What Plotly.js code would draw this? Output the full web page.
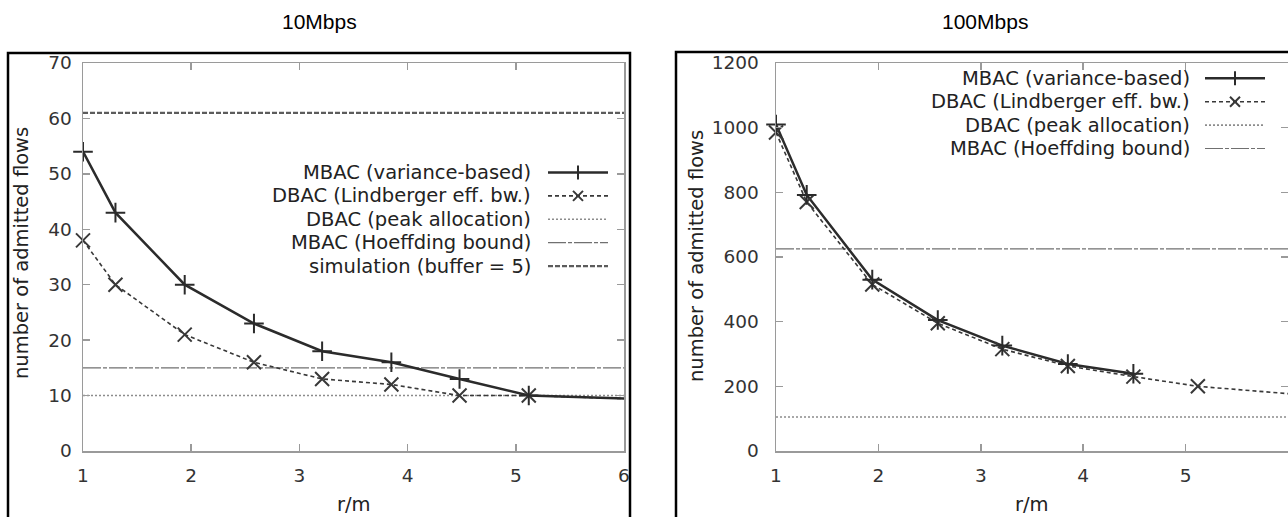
<!DOCTYPE html>
<html><head><meta charset="utf-8">
<script src="https://cdn.plot.ly/plotly-3.0.1.min.js"></script>
<style>html,body{margin:0;padding:0;background:#fff;} #chart{width:1288px;height:517px;}</style>
</head><body><div id="chart"></div>
<script>
// ---- data ----
const rm10 = [1, 1.3, 1.94, 2.58, 3.21, 3.85, 4.48, 5.12, 6.4];
const mbacVar10 = [54, 43, 30, 23, 18, 16, 13, 10, 9.2];
const dbacLind10 = [38, 30, 21, 16, 13, 12, 10, 10, 9.2];
const peak10 = 10;
const hoeff10 = 15;
const sim10 = 61;

const rm100 = [1, 1.3, 1.94, 2.58, 3.21, 3.85, 4.49, 5.12, 6.4];
const mbacVar100 = [1010, 792, 530, 405, 326, 269, 239];
const dbacLind100 = [985, 770, 515, 395, 315, 263, 230, 200, 167];
const peak100 = 105;
const hoeff100 = 625;

const rmSpan = [1, 6];
const xTicks = [1, 2, 3, 4, 5, 6];
const yTicks10 = [0, 10, 20, 30, 40, 50, 60, 70];
const yTicks100 = [0, 200, 400, 600, 800, 1000, 1200];
const panelTitles = ['10Mbps', '100Mbps'];
const xTitle = 'r/m';
const yTitle = 'number of admitted flows';
const legendLabels10 = ['MBAC (variance-based)', 'DBAC (Lindberger eff. bw.)', 'DBAC (peak allocation)', 'MBAC (Hoeffding bound)', 'simulation (buffer = 5)'];
const legendLabels100 = ['MBAC (variance-based)', 'DBAC (Lindberger eff. bw.)', 'DBAC (peak allocation)', 'MBAC (Hoeffding bound)'];

// ---- styles ----
const W = 1288, H = 517;
const px = x => x / W, py = y => 1 - y / H;
const ST = {
  mbac:  {color: '#2b2b2b', width: 2.5, dash: 'solid', symbol: 'cross-thin', size: 14},
  dbac:  {color: '#383838', width: 1.6, dash: '4px,3px', symbol: 'x-thin', size: 14},
  peak:  {color: '#8c8c8c', width: 1.6, dash: '2px,2px'},
  hoeff: {color: '#707070', width: 1.2, dash: '18px,2px,4px,2px'},
  sim:   {color: '#5c5c5c', width: 2.2, dash: '5px,2px'}
};
const order10 = ['mbac', 'dbac', 'peak', 'hoeff', 'sim'];
const order100 = ['mbac', 'dbac', 'peak', 'hoeff'];

function lineTrace(x, y, st, xa, ya) {
  return {x, y, xaxis: xa, yaxis: ya, mode: 'lines', type: 'scatter', showlegend: false, hoverinfo: 'skip',
    line: {color: st.color, width: st.width, dash: st.dash}};
}
function markTrace(x, y, st, xa, ya) {
  const xs = [], ys = [];
  x.forEach((v, i) => { if (i < y.length && v <= rmSpan[1]) { xs.push(v); ys.push(y[i]); } });
  return {x: xs, y: ys, xaxis: xa, yaxis: ya, mode: 'markers', type: 'scatter', showlegend: false, cliponaxis: false,
    marker: {symbol: st.symbol, size: st.size, color: st.color, line: {color: st.color, width: 2}}};
}
const flat = v => [v, v];

const traces = [
  lineTrace(rmSpan, flat(sim10), ST.sim, 'x', 'y'),
  lineTrace(rmSpan, flat(hoeff10), ST.hoeff, 'x', 'y'),
  lineTrace(rmSpan, flat(peak10), ST.peak, 'x', 'y'),
  lineTrace(rm10, dbacLind10, ST.dbac, 'x', 'y'),
  lineTrace(rm10, mbacVar10, ST.mbac, 'x', 'y'),
  markTrace(rm10, dbacLind10, ST.dbac, 'x', 'y'),
  markTrace(rm10, mbacVar10, ST.mbac, 'x', 'y'),

  lineTrace(rmSpan, flat(hoeff100), ST.hoeff, 'x2', 'y2'),
  lineTrace(rmSpan, flat(peak100), ST.peak, 'x2', 'y2'),
  lineTrace(rm100, dbacLind100, ST.dbac, 'x2', 'y2'),
  lineTrace(rm100.slice(0, mbacVar100.length), mbacVar100, ST.mbac, 'x2', 'y2'),
  markTrace(rm100, dbacLind100, ST.dbac, 'x2', 'y2'),
  markTrace(rm100, mbacVar100, ST.mbac, 'x2', 'y2')
];

const tickFont = {family: 'DejaVu Sans', size: 18.5, color: '#333'};
const txtFont = {family: 'DejaVu Sans', size: 19.5, color: '#222'};
const frame = {showline: true, linecolor: '#9a9a9a', linewidth: 1.5, mirror: 'allticks', ticks: 'inside',
  ticklen: 7, tickwidth: 1.5, tickcolor: '#9a9a9a', showgrid: false, zeroline: false, tickfont: tickFont, fixedrange: true};
const yDom = [py(451), py(63)];

const shapes = [];
const annotations = [];

// panel boxes
shapes.push({type: 'rect', xref: 'paper', yref: 'paper', x0: px(8), x1: px(630), y0: -0.1, y1: py(53), line: {color: '#000', width: 2.5}, layer: 'above'});
shapes.push({type: 'rect', xref: 'paper', yref: 'paper', x0: px(676), x1: 1.1, y0: -0.1, y1: py(52), line: {color: '#000', width: 2.5}, layer: 'above'});

// titles
[[319, panelTitles[0]], [985, panelTitles[1]]].forEach(([cx, t]) => annotations.push({
  xref: 'paper', yref: 'paper', x: px(cx), y: py(21), text: t, showarrow: false, xanchor: 'center', yanchor: 'middle',
  font: {family: 'Liberation Sans', size: 21, color: '#000'}}));

// axis titles
[[22, 253], [697, 256]].forEach(([cx, cy]) => annotations.push({
  xref: 'paper', yref: 'paper', x: px(cx), y: py(cy), text: yTitle, textangle: -90, showarrow: false,
  xanchor: 'center', yanchor: 'middle', font: txtFont}));
[[353.5], [1032]].forEach(([cx]) => annotations.push({
  xref: 'paper', yref: 'paper', x: px(cx), y: py(504), text: xTitle, showarrow: false,
  xanchor: 'center', yanchor: 'middle', font: txtFont}));

// legends (gnuplot style: text right-aligned, sample on the right)
function legend(labels, order, textRight, sx0, sx1, y0, step) {
  labels.forEach((lab, i) => {
    const y = y0 + step * i;
    const st = ST[order[i]];
    annotations.push({xref: 'paper', yref: 'paper', x: px(textRight), y: py(y), text: lab, showarrow: false,
      xanchor: 'right', yanchor: 'middle', font: txtFont});
    shapes.push({type: 'line', xref: 'paper', yref: 'paper', x0: px(sx0), x1: px(sx1), y0: py(y), y1: py(y),
      line: {color: st.color, width: st.width, dash: st.dash}});
    const mx = (sx0 + sx1) / 2;
    if (st.symbol === 'cross-thin') {
      shapes.push({type: 'path', xref: 'paper', yref: 'paper', line: {color: st.color, width: 2},
        path: `M${px(mx)},${py(y - 7)} L${px(mx)},${py(y + 7)}`});
    } else if (st.symbol === 'x-thin') {
      shapes.push({type: 'path', xref: 'paper', yref: 'paper', line: {color: st.color, width: 2},
        path: `M${px(mx - 5)},${py(y - 5)} L${px(mx + 5)},${py(y + 5)} M${px(mx - 5)},${py(y + 5)} L${px(mx + 5)},${py(y - 5)}`});
    }
  });
}
legend(legendLabels10, order10, 533, 548, 608, 172.5, 23.4);
legend(legendLabels100, order100, 1192, 1205, 1265, 78.3, 23.4);

const layout = {
  width: W, height: H, margin: {l: 0, r: 0, t: 0, b: 0}, paper_bgcolor: '#fff', plot_bgcolor: '#fff',
  showlegend: false,
  xaxis: Object.assign({}, frame, {domain: [px(83), px(624)], range: rmSpan, tickvals: xTicks, anchor: 'y', ticklabelstandoff: 7}),
  yaxis: Object.assign({}, frame, {domain: yDom, range: [0, 70], tickvals: yTicks10, anchor: 'x', ticklabelstandoff: 6}),
  xaxis2: Object.assign({}, frame, {domain: [px(776), 1], range: rmSpan, tickvals: xTicks, anchor: 'y2', ticklabelstandoff: 7}),
  yaxis2: Object.assign({}, frame, {domain: yDom, range: [0, 1200], tickvals: yTicks100, anchor: 'x2', ticklabelstandoff: 12}),
  shapes, annotations
};
Plotly.newPlot('chart', traces, layout, {displayModeBar: false, staticPlot: true});
</script>
</body></html>
